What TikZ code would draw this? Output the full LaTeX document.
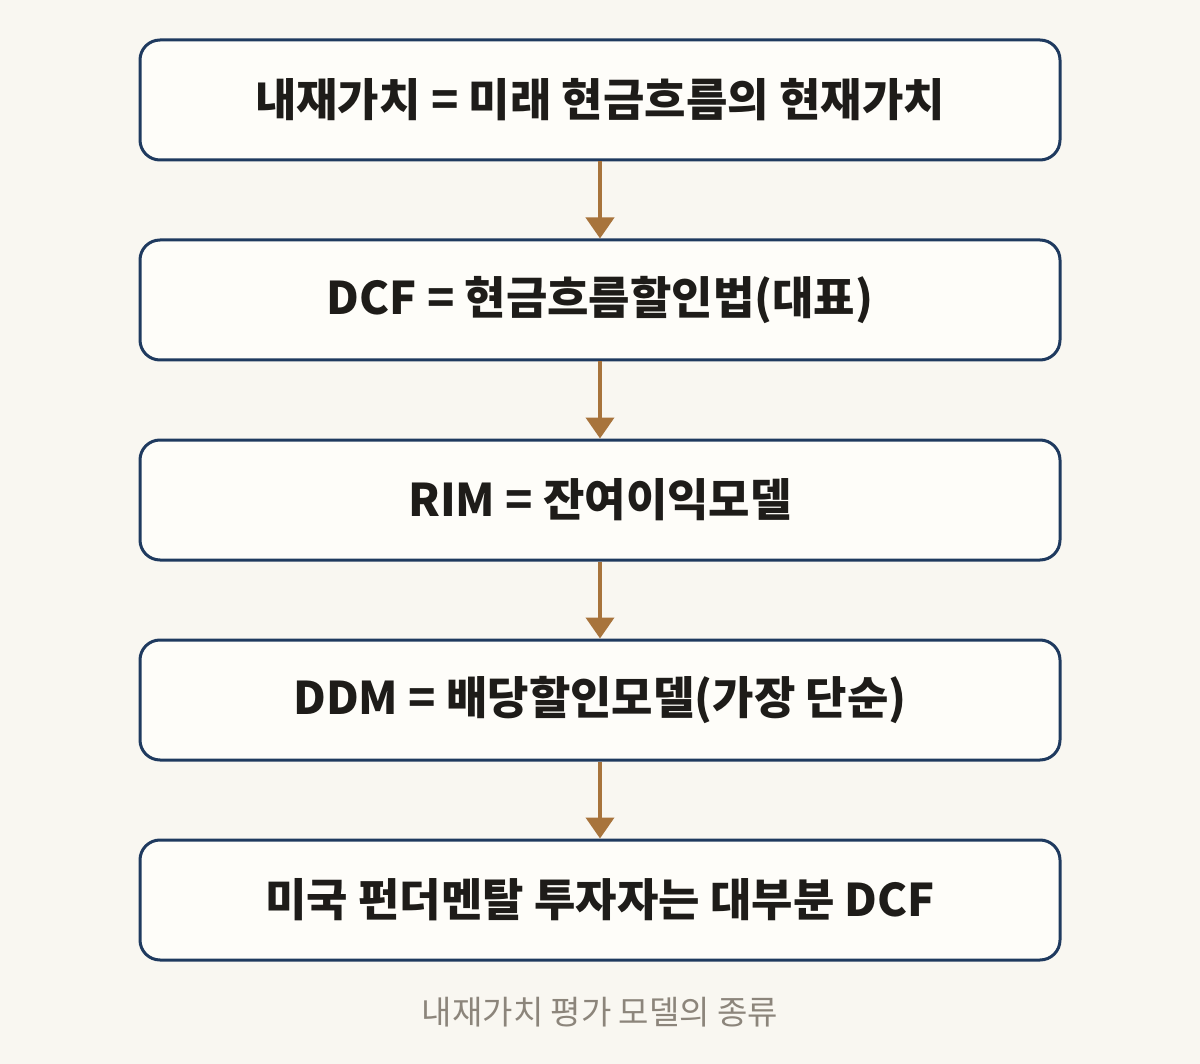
\documentclass[tikz,border=0pt]{standalone}
\usepackage{fontspec}
\newfontfamily\kor[WordSpace=1.15]{Noto Sans CJK KR}
\newfontfamily\korcap{Noto Sans CJK KR}
\usetikzlibrary{arrows.meta}
\definecolor{bgcol}{HTML}{F9F7F1}
\definecolor{boxfill}{HTML}{FEFDF9}
\definecolor{boxline}{HTML}{1F3A5F}
\definecolor{arrowcol}{HTML}{A8743C}
\definecolor{txtcol}{HTML}{1E1C19}
\definecolor{capcol}{HTML}{8C857B}
\begin{document}
\begin{tikzpicture}[x=0.5pt,y=-0.5pt,
    box/.style={draw=boxline,line width=1.5pt,fill=boxfill,rounded corners=10pt,
      minimum width=460pt,minimum height=60pt,text=txtcol,font=\kor\bfseries\fontsize{22.5}{26}\selectfont},
    flow/.style={draw=arrowcol,line width=2pt,-{Triangle[width=14pt,length=10.5pt]}}]
      \fill [bgcol] (0,0) rectangle (1200,1064);
      \node [box] (b1) at (600,100) {내재가치 = 미래 현금흐름의 현재가치};
      \node [box] (b2) at (600,300) {DCF = 현금흐름할인법(대표)};
      \node [box] (b3) at (600,500) {RIM = 잔여이익모델};
      \node [box] (b4) at (600,700) {DDM = 배당할인모델(가장 단순)};
      \node [box] (b5) at (600,900) {미국 펀더멘탈 투자자는 대부분 DCF};
      \draw [flow] (b1) -- (b2);
      \draw [flow] (b2) -- (b3);
      \draw [flow] (b3) -- (b4);
      \draw [flow] (b4) -- (b5);
      \node [text=capcol,font=\korcap\fontsize{16.5}{20}\selectfont] (cap) at (600,1012) {내재가치 평가 모델의 종류};
\end{tikzpicture}
\end{document}
